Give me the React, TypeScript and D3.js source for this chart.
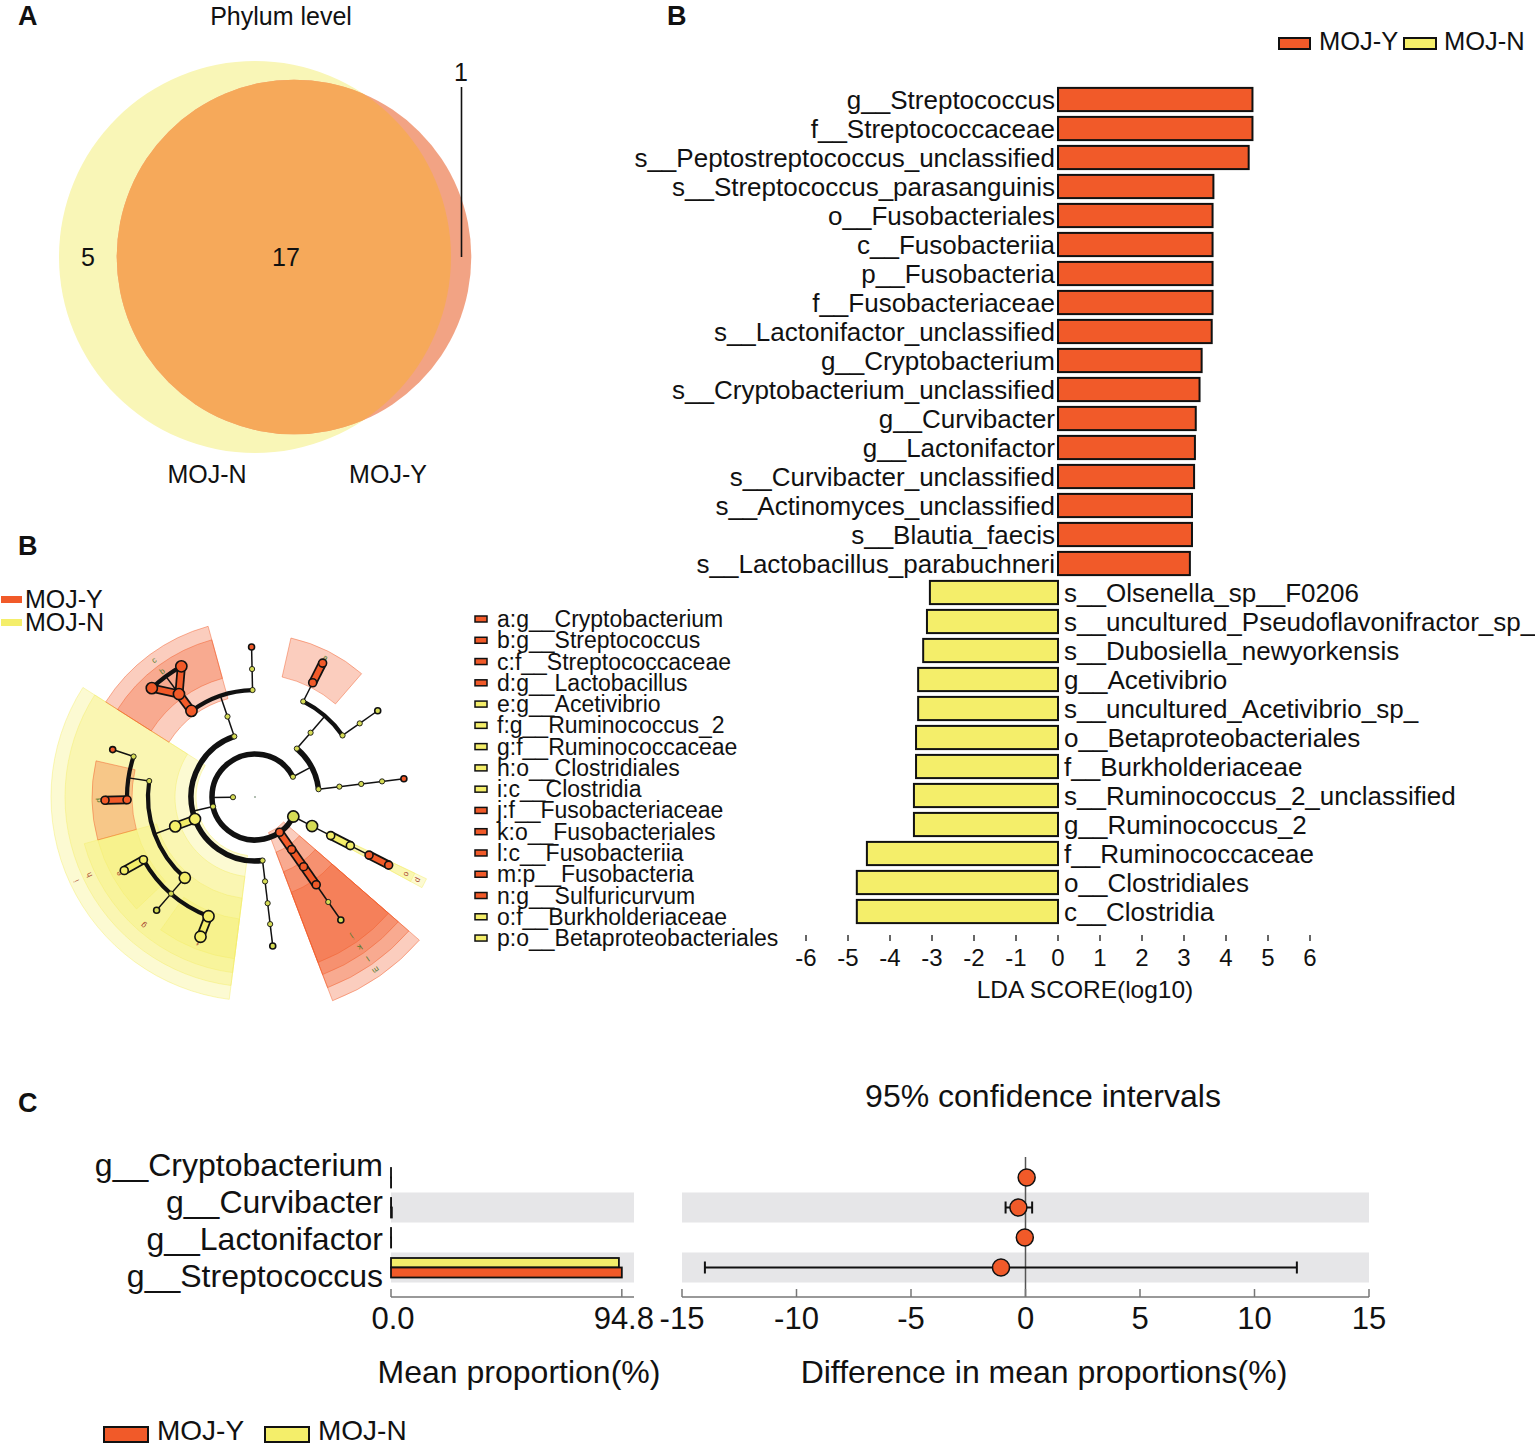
import React from 'react';
import * as d3 from 'd3';

const FONT = "'Liberation Sans', Arial, Helvetica, sans-serif";
const RED = '#F15A29';
const YEL = '#F4EE6A';
const GREY_BAND = '#E6E6E8';

// ---------------- Panel A: Venn ----------------
const vennGroups = ['MOJ-N', 'MOJ-Y'];
const vennOnly = [5, 1];
const vennShared = 17;

// ---------------- Panel B: LDA ----------------
const ldaNames = [
  'g__Streptococcus', 'f__Streptococcaceae', 's__Peptostreptococcus_unclassified',
  's__Streptococcus_parasanguinis', 'o__Fusobacteriales', 'c__Fusobacteriia', 'p__Fusobacteria',
  'f__Fusobacteriaceae', 's__Lactonifactor_unclassified', 'g__Cryptobacterium',
  's__Cryptobacterium_unclassified', 'g__Curvibacter', 'g__Lactonifactor',
  's__Curvibacter_unclassified', 's__Actinomyces_unclassified', 's__Blautia_faecis',
  's__Lactobacillus_parabuchneri',
  's__Olsenella_sp__F0206', 's__uncultured_Pseudoflavonifractor_sp_', 's__Dubosiella_newyorkensis',
  'g__Acetivibrio', 's__uncultured_Acetivibrio_sp_', 'o__Betaproteobacteriales', 'f__Burkholderiaceae',
  's__Ruminococcus_2_unclassified', 'g__Ruminococcus_2', 'f__Ruminococcaceae', 'o__Clostridiales',
  'c__Clostridia',
];
const ldaScores = [
  4.63, 4.63, 4.54, 3.70, 3.68, 3.68, 3.68, 3.68, 3.66, 3.42, 3.37, 3.28, 3.26, 3.24, 3.19, 3.19, 3.14,
  -3.05, -3.12, -3.21, -3.33, -3.33, -3.38, -3.38, -3.43, -3.43, -4.55, -4.79, -4.79,
];
const ldaTicks = [-6, -5, -4, -3, -2, -1, 0, 1, 2, 3, 4, 5, 6];

// ---------------- Panel B: cladogram ----------------
const cladeLetters = ['a', 'b', 'c', 'd', 'e', 'f', 'g', 'h', 'i', 'j', 'k', 'l', 'm', 'n', 'o', 'p'];
const cladeNames = [
  'g__Cryptobacterium', 'g__Streptococcus', 'f__Streptococcaceae', 'g__Lactobacillus', 'g__Acetivibrio',
  'g__Ruminococcus_2', 'f__Ruminococcaceae', 'o__Clostridiales', 'c__Clostridia', 'f__Fusobacteriaceae',
  'o__Fusobacteriales', 'c__Fusobacteriia', 'p__Fusobacteria', 'g__Sulfuricurvum', 'f__Burkholderiaceae',
  'o__Betaproteobacteriales',
];
const cladeGroups = ['Y', 'Y', 'Y', 'Y', 'N', 'N', 'N', 'N', 'N', 'Y', 'Y', 'Y', 'Y', 'Y', 'N', 'N'];

type TNode = { n: string; g?: 'Y' | 'N'; l?: string; a: number; c?: TNode[] };

const taxonomyTree: TNode = {
  n: 'k__Bacteria', a: 1, c: [
    { n: 'p__Proteobacteria', a: 3, c: [
      { n: 'c__Gammaproteobacteria', a: 3, c: [
        { n: 'o__Betaproteobacteriales', g: 'N', l: 'p', a: 2, c: [
          { n: 'f__Burkholderiaceae', g: 'N', l: 'o', a: 2, c: [
            { n: 'g__Curvibacter', g: 'Y', a: 2, c: [
              { n: 's__Curvibacter_unclassified', g: 'Y', a: 2 }] }] }] }] }] },
    { n: 'p__Fusobacteria', g: 'Y', l: 'm', a: 2, c: [
      { n: 'c__Fusobacteriia', g: 'Y', l: 'l', a: 2, c: [
        { n: 'o__Fusobacteriales', g: 'Y', l: 'k', a: 2, c: [
          { n: 'f__Fusobacteriaceae', g: 'Y', l: 'j', a: 2, c: [
            { n: 'g__Fusobacterium', a: 1, c: [
              { n: 's__Fusobacterium_unclassified', a: 1 }] }] }] }] }] },
    { n: 'p__Firmicutes', a: 1, c: [
      { n: 'c__Erysipelotrichia', a: 1, c: [
        { n: 'o__Erysipelotrichales', a: 1, c: [
          { n: 'f__Erysipelotrichaceae', a: 1, c: [
            { n: 'g__Dubosiella', a: 1, c: [
              { n: 's__Dubosiella_newyorkensis', a: 1 }] }] }] }] },
      { n: 'c__Clostridia', g: 'N', l: 'i', a: 3, c: [
        { n: 'o__Clostridiales', g: 'N', l: 'h', a: 3, c: [
          { n: 'f__Ruminococcaceae', g: 'N', l: 'g', a: 3, c: [
            { n: 'g__Ruminococcus_2', g: 'N', l: 'f', a: 3, c: [
              { n: 's__Ruminococcus_2_unclassified', g: 'N', a: 3 }] },
            { n: 'g__Pseudoflavonifractor', a: 1, c: [
              { n: 's__uncultured_Pseudoflavonifractor_sp_', a: 1 }] },
            { n: 'g__Acetivibrio', g: 'N', l: 'e', a: 2, c: [
              { n: 's__uncultured_Acetivibrio_sp_', g: 'N', a: 2 }] }] },
          { n: 'f__Lachnospiraceae', a: 1, c: [
            { n: 'g__Lactobacillus', g: 'Y', l: 'd', a: 2, c: [
              { n: 's__Lactobacillus_parabuchneri', g: 'Y', a: 2 }] },
            { n: 'g__Blautia', a: 1, c: [
              { n: 's__Blautia_faecis', g: 'Y', a: 1 }] }] }] }] },
      { n: 'c__Bacilli', a: 1, c: [
        { n: 'o__Lactobacillales', a: 1, c: [
          { n: 'f__Streptococcaceae', g: 'Y', l: 'c', a: 3, c: [
            { n: 'g__Streptococcus', g: 'Y', l: 'b', a: 3, c: [
              { n: 's__Streptococcus_parasanguinis', g: 'Y', a: 3 },
              { n: 's__Streptococcus_unclassified', g: 'Y', a: 3 }] }] },
          { n: 'f__Peptostreptococcaceae', a: 1, c: [
            { n: 'g__Peptostreptococcus', a: 1, c: [
              { n: 's__Peptostreptococcus_unclassified', g: 'Y', a: 1 }] }] }] }] }] },
    { n: 'p__Actinobacteria', a: 1, c: [
      { n: 'c__Coriobacteriia', a: 1, c: [
        { n: 'o__Coriobacteriales', a: 1, c: [
          { n: 'f__Eggerthellaceae', a: 1, c: [
            { n: 'g__Cryptobacterium', g: 'Y', l: 'a', a: 2, c: [
              { n: 's__Cryptobacterium_unclassified', g: 'Y', a: 2 }] }] },
          { n: 'f__Atopobiaceae', a: 1, c: [
            { n: 'g__Olsenella', a: 1, c: [
              { n: 's__Olsenella_sp__F0206', a: 1 }] }] }] }] },
      { n: 'c__Actinobacteria', a: 1, c: [
        { n: 'o__Actinomycetales', a: 1, c: [
          { n: 'f__Actinomycetaceae', a: 1, c: [
            { n: 'g__Actinomyces', a: 1, c: [
              { n: 's__Actinomyces_unclassified', g: 'Y', a: 1 }] }] }] }] }] },
  ],
};

// ---------------- Panel C: STAMP ----------------
const stampTaxa = ['g__Cryptobacterium', 'g__Curvibacter', 'g__Lactonifactor', 'g__Streptococcus'];
const stampMeanY = [0.03, 0.35, 0.05, 94.8];
const stampMeanN = [0.01, 0.04, 0.02, 93.6];
const stampDiff = [0.05, -0.31, -0.03, -1.07];
const stampLow = [-0.05, -0.87, -0.1, -14.0];
const stampHigh = [0.12, 0.29, 0.05, 11.85];
const stampMeanTicks = [0, 94.8];
const stampDiffTicks = [-15, -10, -5, 0, 5, 10, 15];

const grpColor = (g?: string) => (g === 'Y' ? RED : g === 'N' ? YEL : '#D5DB55');

function T(props: any) {
  const { x, y, size, anchor = 'start', weight = 'normal', children, fill = '#111', ...rest } = props;
  return (
    <text x={x} y={y} fontSize={size} textAnchor={anchor} dominantBaseline="central"
      fontWeight={weight} fill={fill} fontFamily={FONT} {...rest}>{children}</text>
  );
}

function VennPanel() {
  const totN = vennOnly[0] + vennShared;
  const totY = vennOnly[1] + vennShared;
  const rS = d3.scaleSqrt().domain([0, totN]).range([0, 196]);
  const rN = rS(totN), rY = rS(totY);
  const cN = [255, 257], cY = [294, 257];
  return (
    <g>
      <defs>
        <clipPath id="vennClipN"><circle cx={cN[0]} cy={cN[1]} r={rN} /></clipPath>
      </defs>
      <circle cx={cN[0]} cy={cN[1]} r={rN} fill="#F9F6B7" />
      <circle cx={cY[0]} cy={cY[1]} r={rY} fill="#F2A384" />
      <circle cx={cY[0]} cy={cY[1]} r={rY} fill="#F6A95A" clipPath="url(#vennClipN)" />
      <T x={88} y={257} size={25} anchor="middle">{vennOnly[0]}</T>
      <T x={286} y={257} size={25} anchor="middle">{vennShared}</T>
      <T x={461} y={72} size={25} anchor="middle">{vennOnly[1]}</T>
      <line x1={461.5} y1={87} x2={461.5} y2={257} stroke="#111" strokeWidth={1.6} />
      <T x={207} y={474} size={25} anchor="middle">{vennGroups[0]}</T>
      <T x={388} y={474} size={25} anchor="middle">{vennGroups[1]}</T>
      <T x={281} y={16} size={25} anchor="middle">Phylum level</T>
      <T x={18} y={16} size={27} weight="bold">A</T>
    </g>
  );
}

function LdaPanel() {
  const x = d3.scaleLinear().domain([-6, 6]).range([806, 1310]);
  const y = d3.scaleBand().domain(ldaNames).range([85, 85 + 29 * ldaNames.length]).paddingInner(0.2).paddingOuter(0.1);
  const bw = y.bandwidth();
  return (
    <g>
      <T x={667} y={16} size={27} weight="bold">B</T>
      <rect x={1279} y={38} width={31} height={11} fill={RED} stroke="#111" strokeWidth={2} />
      <T x={1319} y={41} size={25.5}>MOJ-Y</T>
      <rect x={1404} y={38} width={32} height={11} fill={YEL} stroke="#111" strokeWidth={2} />
      <T x={1444} y={41} size={25.5}>MOJ-N</T>
      {ldaNames.map((n, i) => {
        const v = ldaScores[i];
        const yy = y(n) as number;
        const pos = v >= 0;
        return (
          <g key={n}>
            <rect x={pos ? x(0) : x(v)} y={yy} width={Math.abs(x(v) - x(0))} height={bw}
              fill={pos ? RED : YEL} stroke="#111" strokeWidth={2} />
            <T x={pos ? x(0) - 3 : x(0) + 6} y={yy + bw / 2} size={26} anchor={pos ? 'end' : 'start'}>{n}</T>
          </g>
        );
      })}
      {ldaTicks.map(t => (
        <g key={t}>
          <line x1={x(t)} x2={x(t)} y1={935} y2={941} stroke="#333" strokeWidth={1.5} />
          <T x={x(t)} y={957} size={24} anchor="middle">{t}</T>
        </g>
      ))}
      <T x={1085} y={989} size={24.5} anchor="middle">LDA SCORE(log10)</T>
    </g>
  );
}

function Cladogram() {
  const cx = 255, cy = 797;
  const radii = [22, 43, 64, 85, 107, 128, 150];
  const outerR = [0, 218, 204, 190, 177, 163, 158];
  const nodeR = [0, 2.6, 4, 5.6];
  const root = d3.hierarchy<TNode>(taxonomyTree, d => d.c);
  d3.cluster<TNode>().nodeSize([1, 1]).separation((a, b) =>
    a.parent === b.parent ? 0.5 : (a.parent && b.parent && a.parent.parent === b.parent.parent ? 0.7 : 1))(root);
  const leaves = root.leaves();
  const ang = d3.scaleLinear().domain(d3.extent(leaves, d => d.x as number) as [number, number]).range([27, 353]);
  const unit = Math.abs(ang(1) - ang(0));
  const A = new Map<any, number>();
  root.eachAfter(d => {
    if (!d.children) A.set(d, ang(d.x as number));
    else A.set(d, (A.get(d.children[0])! + A.get(d.children[d.children.length - 1])!) / 2);
  });
  const rad = (deg: number) => (deg * Math.PI) / 180;
  const P = (deg: number, r: number) => [cx + r * Math.cos(rad(deg)), cy + r * Math.sin(rad(deg))];
  const nodes = root.descendants();
  const thin = new Set(['o', 'p']);
  const wedges = nodes.filter(d => d.data.l).sort((a, b) => a.depth - b.depth).map(d => {
    const lv = d.leaves();
    const pad = thin.has(d.data.l!) ? 1.5 : unit * 0.5;
    const a0 = A.get(lv[0])! - pad, a1 = A.get(lv[lv.length - 1])! + pad;
    const path = d3.arc()({
      innerRadius: radii[d.depth] - 5, outerRadius: outerR[d.depth],
      startAngle: rad(a0 + 90), endAngle: rad(a1 + 90),
    } as any) as string;
    const mid = (a0 + a1) / 2;
    const lp = P(mid, outerR[d.depth] - 7);
    return { d, path, lp, mid };
  });
  const parents = nodes.filter(d => d.children);
  return (
    <g>
      <T x={18} y={546} size={27} weight="bold">B</T>
      <rect x={1} y={596} width={21} height={7} fill={RED} />
      <T x={25} y={599} size={25}>MOJ-Y</T>
      <rect x={1} y={619} width={21} height={7} fill={YEL} />
      <T x={25} y={622} size={25}>MOJ-N</T>
      {wedges.map(({ d, path, lp, mid }) => (
        <g key={'w' + d.data.n}>
          <path d={path} transform={`translate(${cx},${cy})`} fill={grpColor(d.data.g)}
            fillOpacity={0.3} stroke={grpColor(d.data.g)} strokeOpacity={0.45} strokeWidth={1} />
          <text x={lp[0]} y={lp[1]} fontSize={8} fontFamily={FONT} textAnchor="middle" dominantBaseline="central"
            fill={d.data.g === 'Y' ? '#4f7a2e' : '#a8452f'}
            transform={`rotate(${mid + 90},${lp[0]},${lp[1]})`}>{d.data.l}</text>
        </g>
      ))}
      {parents.map(p => {
        const rp = radii[p.depth], rc = radii[p.depth + 1];
        const ap = A.get(p)!;
        const a0 = A.get(p.children![0])!, a1 = A.get(p.children![p.children!.length - 1])!;
        const s = P(ap, rp), e = P(ap, rc);
        const arc = d3.path();
        arc.arc(cx, cy, rc, rad(a0), rad(a1), false);
        return (
          <g key={'l' + p.data.n}>
            <line x1={s[0]} y1={s[1]} x2={e[0]} y2={e[1]} stroke="#111" strokeWidth={1.5} />
            {a1 - a0 > 0.01 && (
              <path d={arc.toString()} fill="none" stroke="#111" strokeWidth={p.depth < 2 ? 5.5 : 4.2} />
            )}
          </g>
        );
      })}
      {nodes.filter(d => d.parent && d.data.g && d.data.g === d.parent.data.g &&
        Math.abs(A.get(d)! - A.get(d.parent)!) < 15).map(d => {
        const s = P(A.get(d.parent!)!, radii[d.depth - 1]);
        const e = P(A.get(d)!, radii[d.depth]);
        return (
          <g key={'b' + d.data.n}>
            <line x1={s[0]} y1={s[1]} x2={e[0]} y2={e[1]} stroke="#111" strokeWidth={9} />
            <line x1={s[0]} y1={s[1]} x2={e[0]} y2={e[1]} stroke={grpColor(d.data.g)} strokeWidth={5.5} />
          </g>
        );
      })}
      <circle cx={cx} cy={cy} r={1} fill="#9a9" />
      {nodes.map(d => {
        const p = P(A.get(d)!, radii[d.depth]);
        const big = d.data.a;
        const r = !d.children && big === 1 ? 3 : nodeR[big];
        return (
          <circle key={'n' + d.data.n} cx={p[0]} cy={p[1]} r={r} fill={grpColor(d.data.g)}
            stroke="#111" strokeWidth={big > 1 || !d.children ? 1.6 : 0.9} />
        );
      })}
      {cladeLetters.map((l, i) => {
        const yy = 619 + 21.27 * i;
        return (
          <g key={'lg' + l}>
            <rect x={475} y={yy - 3} width={12} height={6} fill={grpColor(cladeGroups[i])} stroke="#111" strokeWidth={1.5} />
            <T x={497} y={yy} size={23}>{`${l}:${cladeNames[i]}`}</T>
          </g>
        );
      })}
    </g>
  );
}

function StampPanel() {
  const rowY = d3.scaleBand().domain(stampTaxa).range([1162.5, 1282.5]);
  const labelY = d3.scalePoint().domain(stampTaxa).range([1165, 1276]);
  const xM = d3.scaleLinear().domain([0, 99.8]).range([391, 634]);
  const xD = d3.scaleLinear().domain([-15, 15]).range([682, 1369]);
  const axisY = 1297;
  return (
    <g>
      <T x={18} y={1103} size={27} weight="bold">C</T>
      <T x={1043} y={1096} size={32} anchor="middle">95% confidence intervals</T>
      {stampTaxa.map((t, i) => i % 2 === 1 && (
        <g key={'band' + t}>
          <rect x={xM(0)} y={rowY(t)} width={xM.range()[1] - xM(0)} height={rowY.bandwidth()} fill={GREY_BAND} />
          <rect x={xD(-15)} y={rowY(t)} width={xD(15) - xD(-15)} height={rowY.bandwidth()} fill={GREY_BAND} />
        </g>
      ))}
      {stampTaxa.map((t) => (
        <T key={'lab' + t} x={383} y={labelY(t)} size={32} anchor="end">{t}</T>
      ))}
      {stampTaxa.map((t, i) => {
        const c = (rowY(t) as number) + rowY.bandwidth() / 2;
        return (
          <g key={'bar' + t}>
            <rect x={xM(0)} y={c - 9.5} width={xM(stampMeanN[i]) - xM(0)} height={9.5} fill={YEL} stroke="#111" strokeWidth={1.8} />
            <rect x={xM(0)} y={c} width={xM(stampMeanY[i]) - xM(0)} height={10} fill={RED} stroke="#111" strokeWidth={1.8} />
          </g>
        );
      })}
      <line x1={xM(0)} x2={xM.range()[1]} y1={axisY} y2={axisY} stroke="#777" strokeWidth={1.5} />
      {stampMeanTicks.map(t => (
        <g key={'mt' + t}>
          <line x1={xM(t)} x2={xM(t)} y1={axisY - 8} y2={axisY} stroke="#777" strokeWidth={1.5} />
          <T x={xM(t) + 2} y={1318} size={31} anchor="middle">{t.toFixed(1)}</T>
        </g>
      ))}
      <T x={519} y={1372} size={32} anchor="middle">Mean proportion(%)</T>
      <line x1={xD(0)} x2={xD(0)} y1={1157} y2={axisY} stroke="#555" strokeWidth={1.5} />
      {stampTaxa.map((t, i) => {
        const c = (rowY(t) as number) + rowY.bandwidth() / 2;
        const lo = xD(stampLow[i]), hi = xD(stampHigh[i]);
        return (
          <g key={'ci' + t}>
            <line x1={lo} x2={hi} y1={c} y2={c} stroke="#111" strokeWidth={2} />
            <line x1={lo} x2={lo} y1={c - 6} y2={c + 6} stroke="#111" strokeWidth={2} />
            <line x1={hi} x2={hi} y1={c - 6} y2={c + 6} stroke="#111" strokeWidth={2} />
            <circle cx={xD(stampDiff[i])} cy={c} r={8.5} fill={RED} stroke="#111" strokeWidth={1.5} />
          </g>
        );
      })}
      <line x1={xD(-15)} x2={xD(15)} y1={axisY} y2={axisY} stroke="#777" strokeWidth={1.5} />
      {stampDiffTicks.map(t => (
        <g key={'dt' + t}>
          <line x1={xD(t)} x2={xD(t)} y1={axisY - 8} y2={axisY} stroke="#777" strokeWidth={1.5} />
          <T x={xD(t)} y={1318} size={31} anchor="middle">{t}</T>
        </g>
      ))}
      <T x={1044} y={1372} size={32} anchor="middle">Difference in mean proportions(%)</T>
      <rect x={104} y={1427} width={44} height={15} fill={RED} stroke="#111" strokeWidth={2} />
      <T x={157} y={1430} size={28}>MOJ-Y</T>
      <rect x={265} y={1427} width={44} height={15} fill={YEL} stroke="#111" strokeWidth={2} />
      <T x={318} y={1430} size={28}>MOJ-N</T>
    </g>
  );
}

export default function App() {
  return (
    <svg width={1535} height={1445} style={{ position: 'absolute', left: 0, top: 0, display: 'block' }}
      fontFamily={FONT}>
      <rect width={1535} height={1445} fill="#fff" />
      <VennPanel />
      <Cladogram />
      <LdaPanel />
      <StampPanel />
    </svg>
  );
}
